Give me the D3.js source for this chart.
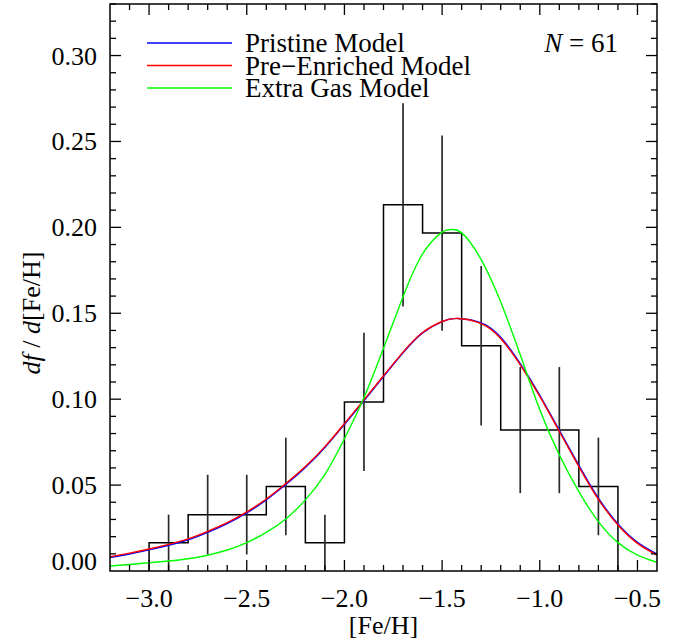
<!DOCTYPE html>
<html><head><meta charset="utf-8">
<script src="https://cdn.jsdelivr.net/npm/d3@7/dist/d3.min.js"></script>
<style>
html,body{margin:0;padding:0;background:#fff;}
svg{display:block;font-family:"Liberation Serif","Times New Roman",serif;}
</style></head>
<body><svg id="c" width="686" height="641"></svg>
<script>
// ---- data ----
const binLo   = [-3.0,-2.8,-2.6,-2.4,-2.2,-2.0,-1.8,-1.6,-1.4,-1.2,-1.0,-0.8];
const binHi   = [-2.8,-2.6,-2.4,-2.2,-2.0,-1.8,-1.6,-1.4,-1.2,-1.0,-0.8,-0.6];
const binMid  = [-2.9,-2.7,-2.5,-2.3,-2.1,-1.9,-1.7,-1.5,-1.3,-1.1,-0.9,-0.7];
const histVal = [0.0164,0.0328,0.0328,0.0492,0.0164,0.0984,0.2131,0.1967,0.1311,0.0820,0.0820,0.0492];
const histErr = [0.0164,0.0232,0.0232,0.0284,0.0164,0.0402,0.0591,0.0568,0.0464,0.0367,0.0367,0.0284];

const curveX = [-3.2,-3.1,-3.0,-2.9,-2.8,-2.7,-2.6,-2.5,-2.4,-2.3,-2.2,-2.1,-2.0,-1.9,-1.8,-1.7,-1.6,-1.5,-1.42,-1.3,-1.2,-1.1,-1.0,-0.9,-0.8,-0.7,-0.6,-0.5,-0.4];
const pristine = [0.0078,0.0099,0.0123,0.0150,0.0182,0.0225,0.0276,0.0338,0.0414,0.0503,0.0603,0.0719,0.0853,0.0991,0.1132,0.1270,0.1386,0.1452,0.1470,0.1444,0.1360,0.1207,0.1023,0.0819,0.0615,0.0424,0.0274,0.0167,0.0099];
const preEnriched = [0.0083,0.0104,0.0128,0.0155,0.0187,0.0231,0.0281,0.0344,0.0419,0.0509,0.0608,0.0724,0.0858,0.0996,0.1136,0.1274,0.1388,0.1452,0.1470,0.1440,0.1353,0.1200,0.1016,0.0812,0.0608,0.0417,0.0268,0.0161,0.0093];
const greenX = [-3.2,-3.1,-3.0,-2.9,-2.8,-2.7,-2.6,-2.5,-2.4,-2.3,-2.2,-2.1,-2.0,-1.9,-1.8,-1.7,-1.6,-1.5,-1.46,-1.4,-1.3,-1.2,-1.1,-1.0,-0.9,-0.8,-0.7,-0.6,-0.5,-0.4];
const extraGas = [0.0029,0.0038,0.0048,0.0058,0.0071,0.0092,0.0122,0.0165,0.0225,0.0303,0.0414,0.0562,0.0770,0.1010,0.1297,0.1596,0.1845,0.1972,0.1986,0.1968,0.1812,0.1565,0.1258,0.0938,0.0676,0.0462,0.0287,0.0165,0.0093,0.0051];

const xTicks = [-3.0,-2.5,-2.0,-1.5,-1.0,-0.5];
const xTickLabels = ["\u22123.0","\u22122.5","\u22122.0","\u22121.5","\u22121.0","\u22120.5"];
const yTicks = [0.00,0.05,0.10,0.15,0.20,0.25,0.30];
const yTickLabels = ["0.00","0.05","0.10","0.15","0.20","0.25","0.30"];
const seriesNames = ["Pristine Model","Pre\u2212Enriched Model","Extra Gas Model"];
const seriesColors = ["#0000ff","#ff0000","#00ff00"];
const nStars = 61;

// ---- layout ----
const L=110, R=657, T=4, B=571;
const svg = d3.select("#c");
const x = d3.scaleLinear().domain([-3.2,-0.4]).range([L,R]);
const y = d3.scaleLinear().domain([0,0.33]).range([B,T]);
const FS = 26;

svg.append("clipPath").attr("id","pc").append("rect")
  .attr("x",L).attr("y",T).attr("width",R-L).attr("height",B-T);

// histogram step
let p = d3.path();
p.moveTo(x(binLo[0]), y(0));
binLo.forEach((lo,i)=>{ p.lineTo(x(lo), y(histVal[i])); p.lineTo(x(binHi[i]), y(histVal[i])); });
p.lineTo(x(binHi[binHi.length-1]), y(0));
svg.append("path").attr("d",p.toString()).attr("fill","none").attr("stroke","#000").attr("stroke-width",1.5);

// error bars
svg.append("g").selectAll("line").data(binMid).join("line")
  .attr("x1",d=>x(d)).attr("x2",d=>x(d))
  .attr("y1",(d,i)=>y(Math.max(0,histVal[i]-histErr[i])))
  .attr("y2",(d,i)=>y(histVal[i]+histErr[i]))
  .attr("stroke","#2a2a2a").attr("stroke-width",1.7);

// curves
const g = svg.append("g").attr("clip-path","url(#pc)");
const line = d3.line().curve(d3.curveNatural);
const curves = [
  {xs:curveX, ys:pristine, c:seriesColors[0]},
  {xs:curveX, ys:preEnriched, c:seriesColors[1]},
  {xs:greenX, ys:extraGas, c:seriesColors[2]}
];
curves.forEach(s=>{
  g.append("path").attr("d", line(s.xs.map((v,i)=>[x(v), y(s.ys[i])])))
   .attr("fill","none").attr("stroke",s.c).attr("stroke-width",1.4);
});

// frame
svg.append("rect").attr("x",L).attr("y",T).attr("width",R-L).attr("height",B-T)
  .attr("fill","none").attr("stroke","#000").attr("stroke-width",1.5);

// ticks
const ax = svg.append("g").attr("stroke","#000").attr("stroke-width",1.3);
const xMinor = d3.range(-3.1,-0.41,0.1).map(v=>Math.round(v*10)/10);
xMinor.forEach(v=>{
  const major = xTicks.some(t=>Math.abs(t-v)<1e-6);
  const len = major?11:6;
  ax.append("line").attr("x1",x(v)).attr("x2",x(v)).attr("y1",B).attr("y2",B-len);
  ax.append("line").attr("x1",x(v)).attr("x2",x(v)).attr("y1",T).attr("y2",T+len);
});
const yMinor = d3.range(0.01,0.331,0.01).map(v=>Math.round(v*100)/100);
yMinor.forEach(v=>{
  const major = yTicks.some(t=>Math.abs(t-v)<1e-6);
  const len = major?11:6;
  ax.append("line").attr("x1",L).attr("x2",L+len).attr("y1",y(v)).attr("y2",y(v));
  ax.append("line").attr("x1",R).attr("x2",R-len).attr("y1",y(v)).attr("y2",y(v));
});

// tick labels
svg.append("g").selectAll("text").data(xTicks).join("text")
  .attr("x",d=>x(d)).attr("y",B+36).attr("text-anchor","middle")
  .attr("font-size",FS).text((d,i)=>xTickLabels[i]);
svg.append("g").selectAll("text").data(yTicks).join("text")
  .attr("x",L-13).attr("y",d=> d===0 ? y(d)-1 : y(d)+9).attr("text-anchor","end")
  .attr("font-size",FS).text((d,i)=>yTickLabels[i]);

// axis titles
svg.append("text").attr("x",(L+R)/2).attr("y",634).attr("text-anchor","middle")
  .attr("font-size",FS).text("[Fe/H]");
const yt = svg.append("text").attr("transform","translate(40,313) rotate(-90)")
  .attr("text-anchor","middle").attr("font-size",FS);
yt.append("tspan").attr("font-style","italic").text("df");
yt.append("tspan").text(" / ");
yt.append("tspan").attr("font-style","italic").text("d");
yt.append("tspan").text("[Fe/H]");

// legend
const lg = svg.append("g");
const LY0 = 43, LDY = 22.5;
seriesNames.forEach((n,i)=>{
  const yy = LY0 + i*LDY;
  lg.append("line").attr("x1",147).attr("x2",232).attr("y1",yy).attr("y2",yy)
    .attr("stroke",seriesColors[i]).attr("stroke-width",1.4);
});
const lt = lg.append("text").attr("font-size",27);
seriesNames.forEach((n,i)=>{
  lt.append("tspan").attr("x",245).attr("y",LY0 + i*LDY + 9).text(n);
});
const nt = svg.append("text").attr("x",618).attr("y",52).attr("text-anchor","end").attr("font-size",27);
nt.append("tspan").attr("font-style","italic").text("N");
nt.append("tspan").text(" = " + nStars);
</script></body></html>
